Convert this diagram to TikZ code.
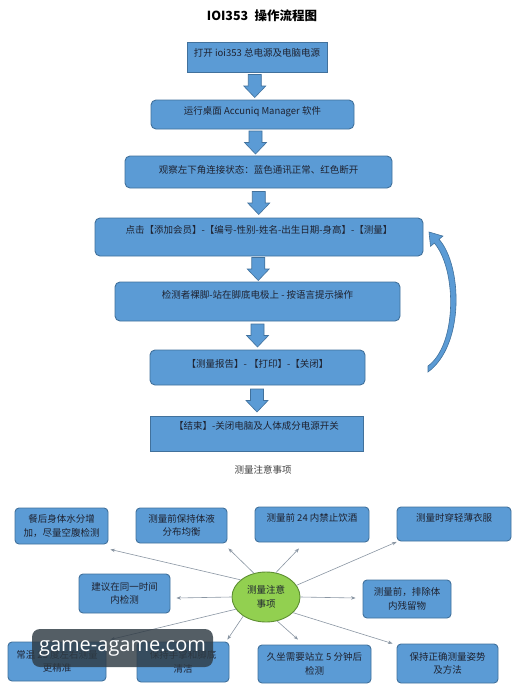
\documentclass[tikz,border=0pt]{standalone}
\usepackage{fontspec}
\setmainfont{Noto Sans CJK SC}
\newfontfamily\wmfont{Open Sans}
\usetikzlibrary{calc,arrows.meta,shapes.geometric}
\definecolor{boxfill}{HTML}{5B9BD5}
\definecolor{boxedge}{HTML}{41719C}
\definecolor{txt}{HTML}{1E2230}
\definecolor{ellfill}{HTML}{92D050}
\definecolor{elledge}{HTML}{5E8F32}
\definecolor{conncol}{HTML}{8A96A3}
\definecolor{wmfill}{HTML}{2F3B44}
\begin{document}
\begin{tikzpicture}[x=1pt,y=-1pt,
  flowbox/.style={draw=boxedge, fill=boxfill, line width=0.9pt, inner sep=0pt, rounded corners=5pt},
  sqbox/.style={flowbox, rounded corners=0pt},
  ftxt/.style={font=\fontsize{9.5}{11}\selectfont, text=txt, inner sep=0pt},
  mbox/.style={draw=boxedge, fill=boxfill, line width=0.9pt, rounded corners=4pt, inner sep=0pt, align=center, font=\fontsize{9.5}{13.5}\selectfont, text=txt},
  conn/.style={draw=conncol, line width=0.6pt, -{Stealth[length=4.5pt,width=3.5pt]}},
  darrow/.pic={\path[fill=boxfill, draw=boxedge, line width=0.6pt] (-6.5,-11.5) -- (6.5,-11.5) -- (6.5,0) -- (11,0) -- (0,11.5) -- (-11,0) -- (-6.5,0) -- cycle;}
]
\fill[white] (0,0) rectangle (518,696);
\useasboundingbox (0,0) rectangle (518,696);

% title
\node[font=\bfseries\fontsize{12.5}{14}\selectfont, text=black] (title) at (262,15.5) {IOI353\enspace 操作流程图};

% flowchart boxes
\node[sqbox, minimum width=140pt, minimum height=30pt, label={[ftxt,yshift=4pt]center:打开 ioi353 总电源及电脑电源}] (b1) at (257,57) {};
\node[flowbox, minimum width=203pt, minimum height=29pt, label={[ftxt,yshift=3pt]center:运行桌面 Accuniq Manager 软件}] (b2) at (252.5,114.5) {};
\node[flowbox, minimum width=267pt, minimum height=32pt, label={[ftxt,yshift=2pt]center:观察左下角连接状态：蓝色通讯正常、红色断开}] (b3) at (258.5,172) {};
\node[flowbox, minimum width=328pt, minimum height=38pt, label={[ftxt,yshift=7pt]center:点击【添加会员】-【编号-性别-姓名-出生日期-身高】-【测量】}] (b4) at (259,237) {};
\node[flowbox, minimum width=285pt, minimum height=39pt, label={[ftxt,yshift=6.5pt]center:检测者裸脚-站在脚底电极上 - 按语言提示操作}] (b5) at (257.5,301.5) {};
\node[flowbox, minimum width=215pt, minimum height=35pt, label={[ftxt,yshift=3.5pt]center:【测量报告】- 【打印】-【关闭】}] (b6) at (257.5,367.5) {};
\node[sqbox, minimum width=213pt, minimum height=35pt, label={[ftxt,yshift=7.5pt]center:【结束】-关闭电脑及人体成分电源开关}] (b7) at (256.5,433.5) {};

% block arrows
\pic at ($(b1.south)!0.5!(b2.north)$) {darrow};
\pic at ($(b2.south)!0.5!(b3.north)$) {darrow};
\pic at ($(b3.south)!0.5!(b4.north)$) {darrow};
\pic at ($(b4.south)!0.5!(b5.north)$) {darrow};
\pic at ($(b5.south)!0.5!(b6.north)$) {darrow};
\pic at ($(b6.south)!0.5!(b7.north)$) {darrow};

% curved return arrow
\path[fill=boxfill, draw=boxedge, line width=0.6pt]
  (428,372) .. controls (465,345) and (462,265) .. (439,239.3)
  -- (442.9,236.1) -- (429,232) -- (430.5,246.3) -- (434.4,243.1)
  .. controls (457,270) and (457,345) .. (428,366) -- cycle;

% section label
\node[font=\fontsize{9.5}{11}\selectfont, text=black!75] (sec) at (263,470) {测量注意事项};

% mind map
\node[ellipse, draw=elledge, fill=ellfill, line width=0.9pt, minimum width=68pt, minimum height=50pt, inner sep=0pt, align=center, font=\fontsize{9.5}{13.5}\selectfont, text=txt] (ell) at (266,597) {测量注意\\事项};

\node[mbox, minimum width=93pt, minimum height=36pt] (A) at (61.5,526) {餐后身体水分增\\加，尽量空腹检测};
\node[mbox, minimum width=91pt, minimum height=35pt] (B) at (181.5,525.5) {测量前保持体液\\分布均衡};
\node[mbox, minimum width=114pt, minimum height=35pt, label={[ftxt,yshift=6.5pt]center:测量前 24 内禁止饮酒}] (C) at (312,524.5) {};
\node[mbox, minimum width=114pt, minimum height=34pt, label={[ftxt,yshift=6pt]center:测量时穿轻薄衣服}] (D) at (454,524) {};
\node[mbox, minimum width=91pt, minimum height=39pt] (E) at (124.5,593.5) {建议在同一时间\\内检测};
\node[mbox, minimum width=88pt, minimum height=38pt] (F) at (407,599) {测量前，排除体\\内残留物};
\node[mbox, minimum width=98pt, minimum height=39pt] (G) at (57,661.5) {常温 25 度左右测量\\更精准};
\node[mbox, minimum width=92pt, minimum height=40pt] (H) at (183,662) {保持手掌和脚底\\清洁};
\node[mbox, minimum width=113pt, minimum height=38pt] (I) at (314.5,664) {久坐需要站立 5 分钟后\\检测};
\node[mbox, minimum width=101pt, minimum height=39pt] (J) at (447.5,663.5) {保持正确测量姿势\\及方法};

\draw[conn] (ell.146) -- ($(A.south east)+(2,5)$);
\draw[conn] (ell.117) -- ($(B.south east)+(1,5)$);
\draw[conn] (ell.68) -- ($(C.south)+(-13,6)$);
\draw[conn] (ell.21) -- ($(D.south west)+(0,0.5)$);
\draw[conn] (ell.180) -- ($(E.east)+(6,4.5)$);
\draw[conn] (ell.0) -- ($(F.west)+(-7,-1)$);
\draw[conn] (ell.202) -- ($(G.north east)+(4,-2)$);
\draw[conn] (ell.220) -- ($(H.north east)+(-2,-2)$);
\draw[conn] (ell.295) -- ($(I.north)+(-16.5,-5)$);
\draw[conn] (ell.330) -- ($(J.north west)+(-4,0)$);

% watermark overlay
\node[fill=wmfill, fill opacity=0.82, text opacity=1, rounded corners=8pt, minimum width=181pt, minimum height=38pt, inner sep=0pt, text=white, font=\wmfont\fontsize{20}{20}\selectfont] (wm) at (122.5,648) {game-agame.com};
\end{tikzpicture}
\end{document}
